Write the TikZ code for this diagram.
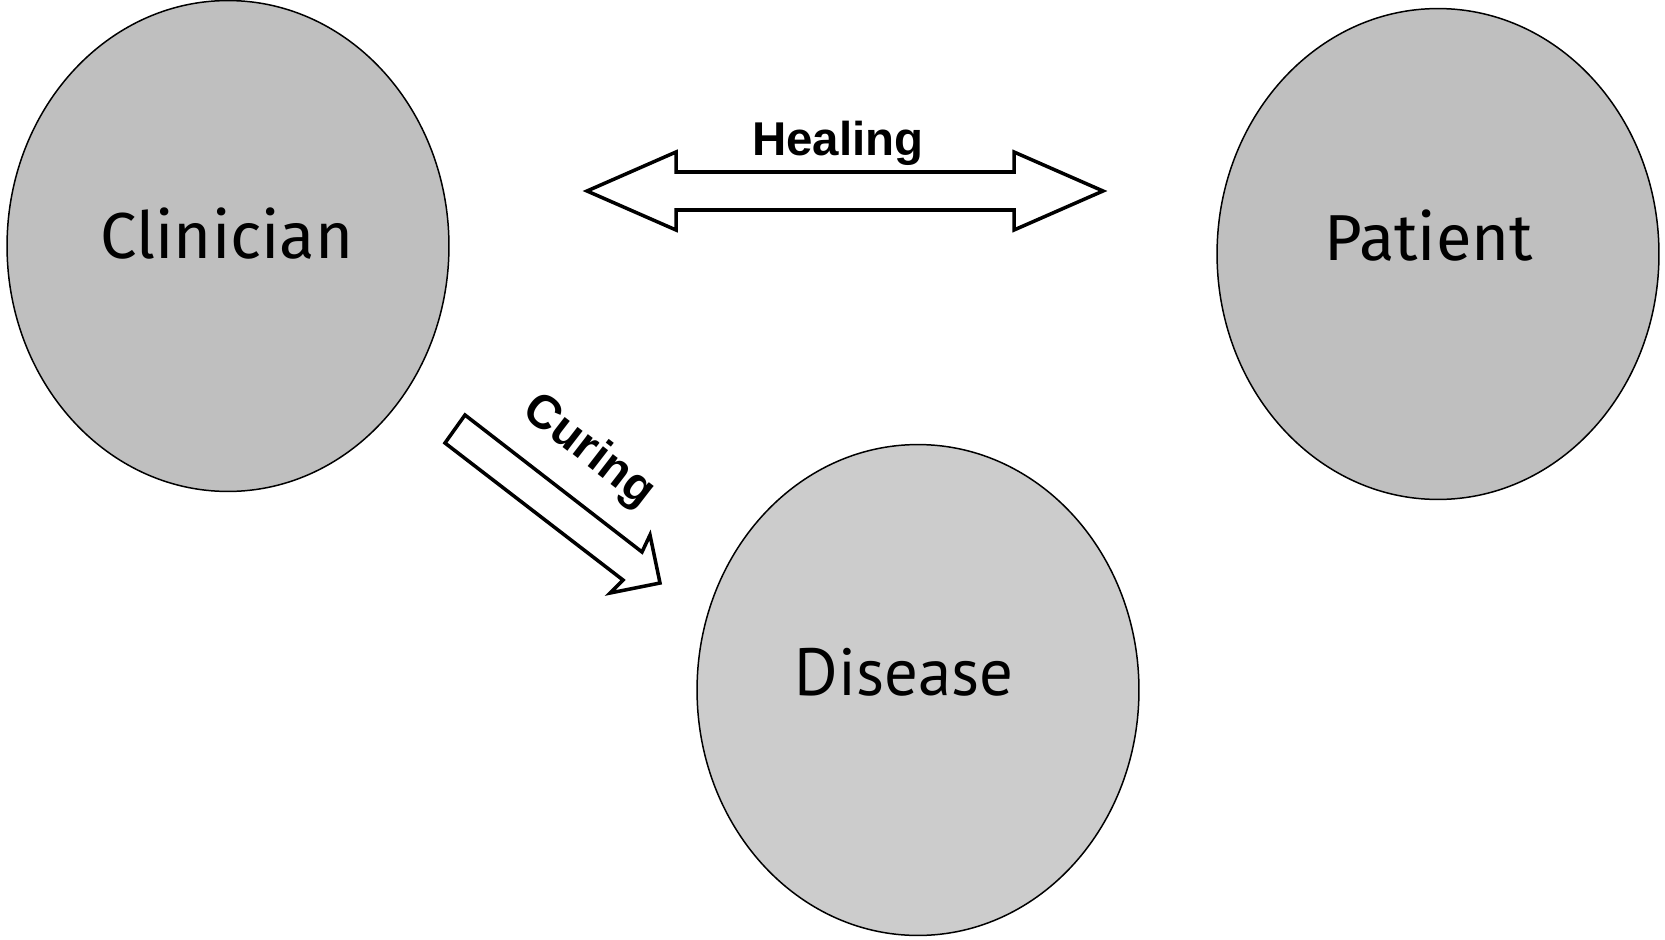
\documentclass[tikz,border=0pt]{standalone}
\usepackage{fontspec}
\usepackage{xcolor}
\usetikzlibrary{shapes, positioning}
\newfontfamily\circfont{Fira Sans}
\newfontfamily\disfont{PT Sans}
\newfontfamily\arrowfont{Liberation Sans}
\definecolor{persongrey}{HTML}{BFBFBF}
\definecolor{diseasegrey}{HTML}{CCCCCC}
\tikzset{
	blob/.style={ellipse, draw=black, line width=0.85pt, minimum width=8.84cm, minimum height=9.82cm, inner sep=0pt, outer sep=0pt},
	blockarrow/.style={draw=black, fill=white, line width=2pt, line join=miter},
	bigword/.style={anchor=base, inner sep=0pt, font=\circfont\fontsize{37}{44}\selectfont},
	arrowword/.style={anchor=base, inner sep=0pt, font=\arrowfont\bfseries\fontsize{27}{32}\selectfont}
}

\begin{document}
\begin{tikzpicture}[x=0.02cm, y=-0.02cm]
			\useasboundingbox (0,0) rectangle (1665,939);
			
			\node[blob, fill=persongrey] (clinician) at (228,246) {};
			\node[blob, fill=persongrey] (patient) at (1438,254) {};
			\node[blob, fill=diseasegrey] (disease) at (918,690) {};
			
			\node[bigword] (clinicianname) at (227,258) {Clinician};
			\node[bigword] (patientname) at (1429,260) {Patient};
			\node[bigword, font=\disfont\fontsize{38}{46}\selectfont] (diseasename) at (904,695) {Disease};
			
			\draw[blockarrow] (587,191) -- (676,152) -- (676,172) -- (1014,172) -- (1014,152) -- (1103,191)
				-- (1014,230) -- (1014,210) -- (676,210) -- (676,230) -- cycle;
			\node[arrowword] (healing) at (838,156) {Healing};
			
			\draw[blockarrow] (445,443) -- (465,415) -- (642,552) -- (650,535) -- (660,583) -- (610,593) -- (623,580) -- cycle;
			\node[arrowword, rotate=-37.7] (curing) at (581,461) {Curing};
		\end{tikzpicture}
\end{document}
